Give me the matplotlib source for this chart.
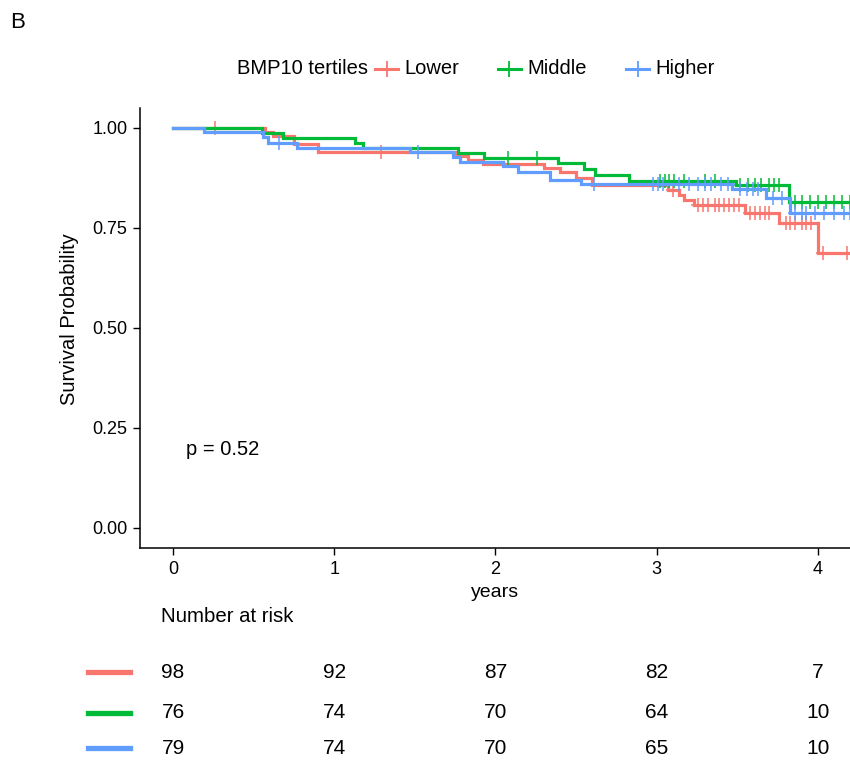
import matplotlib.pyplot as plt
import matplotlib.transforms as mtransforms
from matplotlib.lines import Line2D

plt.rcParams['font.family'] = ['Liberation Sans', 'DejaVu Sans']

groups = ['Lower', 'Middle', 'Higher']
colors = ['#F8766D', '#00BA38', '#619CFF']

# step curves (time in years, survival probability after the step)
lower_t = [0, 0.57, 0.62, 0.75, 0.90, 1.75, 1.83, 1.92, 2.30, 2.40, 2.50, 2.60, 3.07, 3.14, 3.17, 3.23, 3.55, 3.76, 4.00, 4.25]
lower_s = [1.0, 0.99, 0.98, 0.96, 0.94, 0.93, 0.92, 0.91, 0.90, 0.89, 0.875, 0.857, 0.845, 0.833, 0.82, 0.807, 0.787, 0.762, 0.687, 0.687]
middle_t = [0, 0.55, 0.68, 1.13, 1.18, 1.77, 1.93, 2.39, 2.55, 2.62, 2.83, 3.49, 3.82, 4.25]
middle_s = [1.0, 0.987, 0.975, 0.962, 0.95, 0.937, 0.925, 0.912, 0.897, 0.882, 0.867, 0.857, 0.815, 0.815]
higher_t = [0, 0.19, 0.56, 0.59, 0.77, 1.47, 1.74, 1.78, 2.05, 2.14, 2.34, 2.53, 3.47, 3.68, 3.83, 4.25]
higher_s = [1.0, 0.99, 0.977, 0.962, 0.95, 0.94, 0.927, 0.915, 0.905, 0.89, 0.87, 0.86, 0.848, 0.825, 0.788, 0.788]

# censor marks
lower_ct = [0.26, 1.29, 3.10, 3.26, 3.29, 3.32, 3.36, 3.39, 3.42, 3.45, 3.48, 3.51, 3.58, 3.61, 3.64, 3.67, 3.70, 3.80, 3.83, 3.86, 3.90, 3.93, 3.96, 4.03, 4.18]
lower_cs = [1.0, 0.94, 0.845, 0.807, 0.807, 0.807, 0.807, 0.807, 0.807, 0.807, 0.807, 0.807, 0.787, 0.787, 0.787, 0.787, 0.787, 0.762, 0.762, 0.762, 0.762, 0.762, 0.762, 0.687, 0.687]
middle_ct = [2.08, 2.26, 3.02, 3.05, 3.08, 3.11, 3.17, 3.30, 3.36, 3.52, 3.57, 3.61, 3.65, 3.70, 3.73, 3.76, 3.86, 3.90, 3.95, 4.00, 4.05, 4.10, 4.15, 4.20]
middle_cs = [0.925, 0.925, 0.867, 0.867, 0.867, 0.867, 0.867, 0.867, 0.867, 0.857, 0.857, 0.857, 0.857, 0.857, 0.857, 0.857, 0.815, 0.815, 0.815, 0.815, 0.815, 0.815, 0.815, 0.815]
higher_ct = [0.66, 1.52, 2.61, 2.98, 3.01, 3.04, 3.14, 3.20, 3.26, 3.30, 3.34, 3.40, 3.44, 3.52, 3.56, 3.60, 3.63, 3.72, 3.78, 3.86, 3.90, 3.93, 3.98, 4.04, 4.10, 4.16, 4.20]
higher_cs = [0.962, 0.94, 0.86, 0.86, 0.86, 0.86, 0.86, 0.86, 0.86, 0.86, 0.86, 0.86, 0.86, 0.848, 0.848, 0.848, 0.848, 0.825, 0.825, 0.788, 0.788, 0.788, 0.788, 0.788, 0.788, 0.788, 0.788]

risk_times = [0, 1, 2, 3, 4]
risk_lower = [98, 92, 87, 82, 7]
risk_middle = [76, 74, 70, 64, 10]
risk_higher = [79, 74, 70, 65, 10]

curves = [(lower_t, lower_s), (middle_t, middle_s), (higher_t, higher_s)]
censors = [(lower_ct, lower_cs), (middle_ct, middle_cs), (higher_ct, higher_cs)]
risks = [risk_lower, risk_middle, risk_higher]

W, H = 850.0, 760.0
fig = plt.figure(figsize=(8.5, 7.6), dpi=100)
ax = fig.add_axes([140 / W, 1 - 548 / H, 710 / W, 440 / H])

for (t, s), (ct, cs), c in zip(curves, censors, colors):
    ax.step(t, s, where='post', color=c, lw=2.3, solid_joinstyle='miter')
    ax.plot(ct, cs, ls='none', marker='+', ms=10, mew=1.1, color=c)

ax.set_xlim(-0.205, 4.2)
ax.set_ylim(-0.05, 1.05)
ax.set_xticks([0, 1, 2, 3, 4])
ax.set_yticks([0, 0.25, 0.5, 0.75, 1.0])
ax.set_yticklabels(['0.00', '0.25', '0.50', '0.75', '1.00'])
ax.tick_params(labelsize=13, length=5, width=1, colors='black', pad=4)
for side in ['top', 'right']:
    ax.spines[side].set_visible(False)
for side in ['left', 'bottom']:
    ax.spines[side].set_linewidth(1.1)
ax.set_xlabel('years', fontsize=14)
ax.xaxis.set_label_coords(0.5, -0.082)
ax.set_ylabel('Survival Probability', fontsize=14.5)
ax.yaxis.set_label_coords(-0.086, 0.52)
ax.text(0.08, 0.197, 'p = 0.52', fontsize=14.5, va='center', ha='left')

fig.text(10 / W, 1 - 22 / H, 'B', fontsize=16, va='center', ha='left')

# legend on top, title inline to the left of the keys
leg_y = 1 - 69 / H
fig.text(237 / W, leg_y, 'BMP10 tertiles', fontsize=14.5, va='center', ha='left')
key_x = [375, 498, 626]
for g, c, x0 in zip(groups, colors, key_x):
    fig.add_artist(Line2D([x0 / W, (x0 + 23) / W], [leg_y, leg_y], color=c, lw=2.2,
                          transform=fig.transFigure))
    fig.add_artist(Line2D([(x0 + 11.5) / W], [leg_y], color=c, ls='none', marker='+',
                          ms=11, mew=1.3, transform=fig.transFigure))
    fig.text((x0 + 29) / W, leg_y, g, fontsize=14.5, va='center', ha='left')

# number at risk table
trans = mtransforms.blended_transform_factory(ax.transData, fig.transFigure)
fig.text(161 / W, 1 - 616 / H, 'Number at risk', fontsize=14.7, va='center', ha='left')
row_y = [1 - 672 / H, 1 - 713 / H, 1 - 748 / H]
for r, c, y in zip(risks, colors, row_y):
    fig.add_artist(Line2D([88 / W, 130 / W], [y, y], color=c, lw=3.8, transform=fig.transFigure))
    for t, n in zip(risk_times, r):
        fig.text(t, y, str(n), fontsize=15, va='center', ha='center', transform=trans)

fig.savefig('out.png', dpi=100)
